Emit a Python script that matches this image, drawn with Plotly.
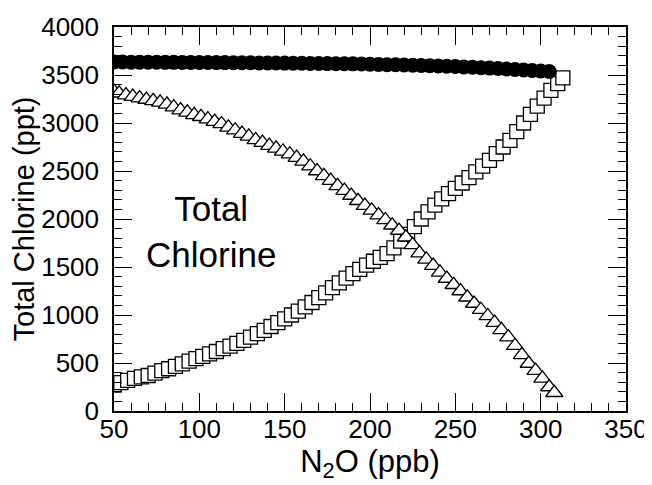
import plotly.graph_objects as go

# Total chlorine (filled circles)
circ_x = list(range(50, 310, 5))
circ_y = [3635, 3635, 3634, 3634, 3633, 3633, 3632, 3632, 3631, 3631,
          3630, 3630, 3629, 3629, 3628, 3628, 3627, 3626, 3626, 3625,
          3624, 3623, 3622, 3621, 3620, 3619, 3618, 3617, 3616, 3614,
          3612, 3610, 3608, 3606, 3604, 3602, 3600, 3597, 3594, 3591,
          3588, 3584, 3580, 3576, 3572, 3567, 3562, 3557, 3552, 3547,
          3542, 3537]

# Open triangles
tri_x = [50, 53, 57, 61, 65, 69, 73, 77, 81, 85, 89, 93, 97, 101, 105, 109, 113, 117,
         121, 125, 129, 133, 137, 141, 145, 149, 153, 157, 161, 165, 169, 173, 177,
         181, 185, 189, 193, 197, 201, 205, 209, 213, 217, 221, 225, 229, 233, 237,
         241, 245, 249, 253, 257, 261, 265, 269, 273, 277, 281, 285, 289, 293, 297,
         301, 305, 308]
tri_y = [3330, 3310, 3290, 3275, 3260, 3245, 3230, 3215, 3195, 3165, 3135, 3110, 3085,
         3065, 3040, 3015, 2990, 2955, 2925, 2890, 2860, 2825, 2795, 2765, 2735, 2705,
         2675, 2640, 2600, 2550, 2500, 2450, 2400, 2345, 2295, 2245, 2190, 2140, 2090,
         2040, 1990, 1935, 1880, 1810, 1730, 1645, 1580, 1515, 1445, 1380, 1315, 1250,
         1185, 1120, 1055, 990, 920, 845, 770, 680, 585, 495, 420, 340, 250, 190]

# Open squares
sq_x = [50, 54, 58, 62, 66, 70, 74, 78, 82, 86, 90, 94, 98, 102, 106, 110, 114, 118,
        122, 126, 130, 134, 138, 142, 146, 150, 154, 158, 162, 166, 170, 174, 178,
        182, 186, 190, 194, 198, 202, 206, 210, 214, 218, 222, 226, 230, 234, 238,
        242, 246, 250, 254, 258, 262, 266, 270, 274, 278, 282, 286, 290, 294, 298,
        302, 306, 310, 313]
sq_y = [270, 295, 320, 340, 355, 370, 395, 420, 440, 465, 490, 520, 545, 570, 595, 620,
        650, 675, 705, 735, 770, 805, 840, 880, 920, 960, 1000, 1040, 1085, 1130, 1180,
        1230, 1285, 1335, 1385, 1430, 1475, 1520, 1560, 1600, 1640, 1700, 1770, 1840,
        1920, 2000, 2075, 2145, 2210, 2265, 2320, 2375, 2430, 2490, 2550, 2610, 2680,
        2750, 2820, 2910, 3000, 3090, 3175, 3260, 3340, 3410, 3470]

x_ticks = [50, 100, 150, 200, 250, 300, 350]
y_ticks = [0, 500, 1000, 1500, 2000, 2500, 3000, 3500, 4000]

FONT = "Liberation Sans, Arial, sans-serif"

fig = go.Figure()
fig.add_trace(go.Scatter(
    x=sq_x, y=sq_y, mode="markers",
    marker=dict(symbol="square", size=14, color="white",
                line=dict(color="black", width=1.3)),
    showlegend=False))
fig.add_trace(go.Scatter(
    x=tri_x, y=tri_y, mode="markers",
    marker=dict(symbol="triangle-up", size=15, color="white",
                line=dict(color="black", width=1.3)),
    showlegend=False))
fig.add_trace(go.Scatter(
    x=circ_x, y=circ_y, mode="markers",
    marker=dict(symbol="circle", size=15, color="black",
                line=dict(color="black", width=0)),
    showlegend=False))

fig.add_annotation(x=107, y=1875, xref="x", yref="y",
                   text="Total<br>Chlorine", showarrow=False,
                   font=dict(family=FONT, size=35, color="black"),
                   align="center")

axis_common = dict(
    showgrid=False, zeroline=False, showline=True, linecolor="black",
    linewidth=1.5, mirror="ticks", ticks="inside", ticklen=18,
    tickwidth=1.3, tickcolor="black", automargin=False,
    tickfont=dict(family=FONT, size=26, color="black"),
)

fig.update_xaxes(range=[50, 350], tickvals=x_ticks,
                 ticktext=[str(v) for v in x_ticks],
                 ticklabelstandoff=-6,
                 minor=dict(dtick=10, ticks="inside", ticklen=8,
                            tickcolor="black", tickwidth=1.1),
                 title=dict(text="N<sub>2</sub>O (ppb)",
                            font=dict(family=FONT, size=31, color="black"),
                            standoff=6),
                 **axis_common)
fig.update_yaxes(range=[0, 4000], tickvals=y_ticks,
                 ticktext=[str(v) for v in y_ticks],
                 ticklabelstandoff=8,
                 minor=dict(dtick=100, ticks="inside", ticklen=8,
                            tickcolor="black", tickwidth=1.1),
                 title=dict(text="Total Chlorine (ppt)",
                            font=dict(family=FONT, size=29, color="black"),
                            standoff=10),
                 **axis_common)

# page body adds an 8px offset, margins compensate for it
fig.update_layout(
    width=652, height=485,
    margin=dict(l=106, r=34, t=19, b=82),
    paper_bgcolor="white", plot_bgcolor="white",
)

fig.write_html("out.html")
